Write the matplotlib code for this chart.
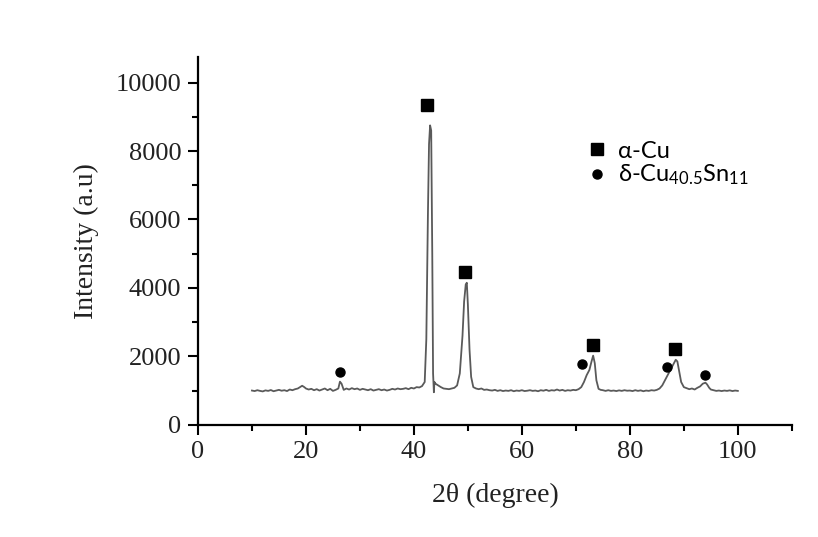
import matplotlib
matplotlib.use("Agg")
import matplotlib.pyplot as plt
from matplotlib.ticker import MultipleLocator
from matplotlib.lines import Line2D

# XRD pattern (2theta in degrees, intensity in a.u.)
two_theta = [
    10, 10.5, 11, 11.5, 12, 12.5, 13, 13.5, 14, 14.5, 15, 15.5, 16, 16.5, 17, 17.5, 18,
    18.5, 19, 19.3, 19.7, 20, 20.5, 21, 21.5, 22, 22.5, 23, 23.5, 24, 24.5, 25, 25.5, 26,
    26.3, 26.6, 27, 27.5, 28, 28.5, 29, 29.5, 30, 30.5, 31, 31.5, 32, 32.5, 33, 33.5, 34,
    34.5, 35, 35.5, 36, 36.5, 37, 37.5, 38, 38.5, 39, 39.5, 40, 40.5, 41, 41.5, 42,
    42.3, 42.6, 42.8, 43.0, 43.2, 43.4, 43.55, 43.7, 43.8, 44.0, 44.5, 45, 45.5, 46,
    46.5, 47, 47.5, 48, 48.5, 49, 49.3, 49.6, 49.8, 50.0, 50.3, 50.6, 51, 51.5, 52,
    52.5, 53, 53.5, 54, 54.5, 55, 55.5, 56, 56.5, 57, 57.5, 58, 58.5, 59, 59.5, 60,
    60.5, 61, 61.5, 62, 62.5, 63, 63.5, 64, 64.5, 65, 65.5, 66, 66.5, 67, 67.5, 68,
    68.5, 69, 69.5, 70, 70.5, 71, 71.5, 72, 72.5, 72.9, 73.2, 73.5, 73.8, 74.2, 74.6,
    75, 75.5, 76, 76.5, 77, 77.5, 78, 78.5, 79, 79.5, 80, 80.5, 81, 81.5, 82, 82.5,
    83, 83.5, 84, 84.5, 85, 85.5, 86, 86.5, 87, 87.5, 88, 88.5, 88.8, 89.1, 89.5, 90,
    90.5, 91, 91.5, 92, 92.5, 93, 93.5, 94, 94.3, 94.7, 95, 95.5, 96, 96.5, 97, 97.5,
    98, 98.5, 99, 99.5, 100,
]
intensity = [
    1000, 985, 1010, 990, 975, 1005, 990, 1015, 980, 1000, 1020, 995, 1010, 985, 1030, 1010, 1040,
    1060, 1110, 1140, 1100, 1060, 1030, 1050, 1010, 1040, 1000, 1030, 1060, 1010, 1050, 990, 1020, 1060,
    1260, 1200, 1020, 1060, 1030, 1070, 1040, 1060, 1020, 1050, 1030, 1010, 1040, 1000, 1020, 1040, 1010,
    1030, 1000, 1020, 1050, 1030, 1060, 1040, 1050, 1070, 1040, 1080, 1060, 1100, 1090, 1130, 1250,
    2500, 6200, 8200, 8750, 8600, 5000, 1500, 950, 1250, 1200, 1150, 1100, 1060, 1050,
    1040, 1060, 1080, 1150, 1500, 2600, 3600, 4100, 4150, 3500, 2200, 1400, 1100, 1060, 1040,
    1060, 1020, 1030, 1010, 1000, 1020, 990, 1010, 985, 1000, 990, 1010, 980, 1000, 990, 1010,
    985, 995, 1010, 990, 1000, 980, 1010, 995, 1020, 990, 1010, 1000, 1030, 1000, 1020, 990,
    1010, 1000, 1020, 1010, 1040, 1100, 1250, 1450, 1600, 1850, 2020, 1800, 1300, 1050, 1020,
    1010, 990, 1010, 990, 1000, 985, 1005, 990, 1010, 995, 1000, 985, 1010, 990, 1005, 980,
    1000, 990, 1010, 1000, 1020, 1060, 1150, 1300, 1450, 1600, 1750, 1900, 1850, 1600, 1250, 1100,
    1070, 1040, 1060, 1030, 1080, 1120, 1200, 1230, 1180, 1080, 1030, 1010, 990, 1000, 985, 1000,
    990, 1005, 985, 1000, 990,
]

# phase markers above the peaks
cu_alpha_x = [42.5, 49.5, 73.2, 88.4]
cu_alpha_y = [9350, 4450, 2330, 2220]
delta_x = [26.3, 71.2, 86.8, 94.0]
delta_y = [1530, 1770, 1700, 1450]

serif = "Liberation Serif"
plt.rcParams["mathtext.default"] = "regular"

fig = plt.figure(figsize=(8.18, 5.37), dpi=100)
ax = fig.add_axes([0.242, 0.209, 0.726, 0.685])

ax.plot(two_theta, intensity, color="#5a5a5a", lw=1.3)
ax.plot(cu_alpha_x, cu_alpha_y, "s", color="black", ms=9, ls="none")
ax.plot(delta_x, delta_y, "o", color="black", ms=6.5, ls="none")

ax.set_xlim(0, 110)
ax.set_ylim(0, 10750)
ax.xaxis.set_major_locator(MultipleLocator(20))
ax.xaxis.set_minor_locator(MultipleLocator(10))
ax.yaxis.set_major_locator(MultipleLocator(2000))
ax.yaxis.set_minor_locator(MultipleLocator(1000))

for side in ["top", "right"]:
    ax.spines[side].set_visible(False)
for side in ["left", "bottom"]:
    ax.spines[side].set_linewidth(1.6)

ax.tick_params(which="major", direction="out", length=7, width=1.5, pad=5)
ax.tick_params(which="minor", direction="out", length=4, width=1.5)
for lbl in ax.get_xticklabels() + ax.get_yticklabels():
    lbl.set_fontfamily(serif)
    lbl.set_fontsize(19)
    lbl.set_color("#222222")

ax.set_xlabel("2θ (degree)", fontfamily=serif, fontsize=20, color="#222222", labelpad=14)
ax.set_ylabel("Intensity (a.u)", fontfamily=serif, fontsize=20, color="#222222", labelpad=12)

handles = [
    Line2D([], [], marker="s", color="black", ls="none", ms=9),
    Line2D([], [], marker="o", color="black", ls="none", ms=6.5),
]
labels = ["α-Cu", r"δ-Cu$_{40.5}$Sn$_{11}$"]
ax.legend(handles, labels, loc="upper left", bbox_to_anchor=(0.62, 0.83),
          frameon=False, handlelength=0.8, handletextpad=0.5, labelspacing=0.05,
          prop={"family": "Lato", "size": 17})

fig.savefig("out.png", dpi=100)
